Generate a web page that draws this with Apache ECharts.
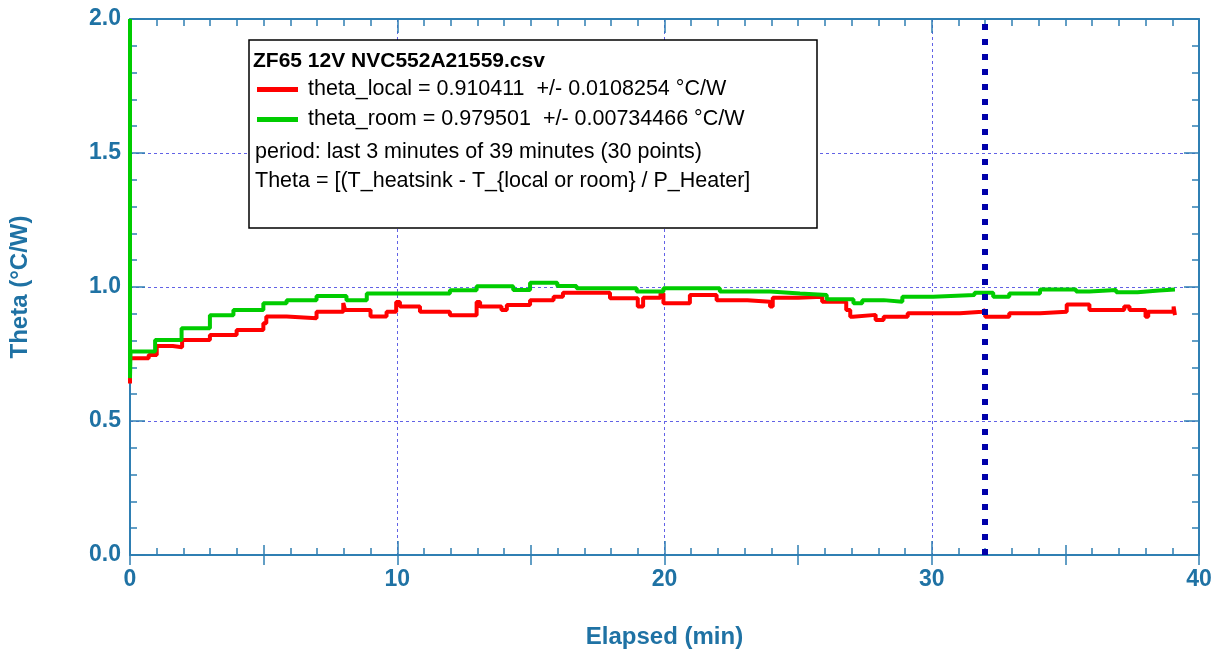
<!DOCTYPE html>
<html>
<head>
<meta charset="utf-8">
<script src="https://cdn.jsdelivr.net/npm/echarts@6/dist/echarts.min.js"></script>
<style>
  html, body { margin: 0; padding: 0; background: #fff; }
  #echarts { width: 1228px; height: 655px; }
</style>
</head>
<body>
<div id="echarts"></div>
<script>
// 数据：读图估计的阶梯曲线 (每个点 = 该台阶开始的时间和数值)
var roomTimes = [0, 0, 0.02, 0.94, 1.93, 2.99, 3.87, 4.99, 5.86, 6.98, 8.1, 8.86, 11.97, 12.97, 14.34, 14.97, 15.99, 16.71, 18.96, 19.96, 22.07, 23.95, 25.07, 26.07, 27.07, 27.4, 28.2, 28.9, 30.05, 31.6, 32.3, 32.9, 34.05, 35.4, 35.9, 36.9, 37.7, 38.5, 39.1];
var roomValues = [2.0, 0.66, 0.759, 0.802, 0.846, 0.895, 0.914, 0.939, 0.951, 0.966, 0.951, 0.976, 0.988, 1.003, 0.989, 1.016, 1.004, 0.995, 0.983, 0.995, 0.983, 0.976, 0.97, 0.954, 0.939, 0.951, 0.945, 0.964, 0.97, 0.979, 0.964, 0.976, 0.991, 0.983, 0.989, 0.98, 0.987, 0.991, 0.991];

var localTimes = [0, 0, 0.7, 1.0, 1.6, 1.95, 2.99, 3.99, 4.99, 5.1, 5.86, 6.98, 7.98, 8.05, 9.0, 9.6, 9.96, 10.1, 10.85, 11.97, 12.97, 13.1, 13.9, 14.1, 14.97, 15.85, 16.2, 17.96, 19.0, 19.2, 19.85, 19.96, 20.95, 21.95, 23.1, 23.95, 24.05, 25.0, 25.9, 26.8, 26.95, 27.05, 27.9, 28.2, 29.1, 31.05, 31.9, 32.0, 32.9, 34.05, 35.05, 35.9, 37.2, 37.4, 38.0, 38.1, 39.05, 39.1];
var localValues = [0.64, 0.734, 0.746, 0.78, 0.775, 0.802, 0.821, 0.84, 0.865, 0.89, 0.883, 0.908, 0.94, 0.914, 0.89, 0.908, 0.944, 0.927, 0.908, 0.895, 0.944, 0.927, 0.914, 0.933, 0.951, 0.964, 0.979, 0.958, 0.927, 0.96, 0.976, 0.939, 0.97, 0.951, 0.945, 0.927, 0.96, 0.964, 0.945, 0.914, 0.889, 0.896, 0.877, 0.889, 0.902, 0.908, 0.914, 0.889, 0.902, 0.908, 0.935, 0.914, 0.927, 0.914, 0.889, 0.908, 0.927, 0.895];

var markerTime = 32;   // 竖直虚线位置 (min)

var localName = 'theta_local = 0.910411  +/- 0.0108254 \u00b0C/W';
var roomName = 'theta_room = 0.979501  +/- 0.00734466 \u00b0C/W';
var titleText = 'ZF65 12V NVC552A21559.csv';
var noteLines = [
  'period: last 3 minutes of 39 minutes (30 points)',
  'Theta = [(T_heatsink - T_{local or room} / P_Heater]'
];

function pairs(xs, ys) {
  return xs.map(function (x, i) { return [x, ys[i]]; });
}

var axisColor = '#2f7fb3';
var labelColor = '#1f72a4';
var gridColor = '#6262e6';
var font = '"Liberation Sans", Arial, sans-serif';

var chart = echarts.init(document.getElementById('echarts'));

var baseX = {
  type: 'value', min: 0, max: 40, gridIndex: 0,
  axisLine: { show: true, onZero: false, lineStyle: { color: axisColor, width: 2 } },
  splitLine: { show: false },
  axisLabel: { show: false }
};
var baseY = {
  type: 'value', min: 0, max: 2, interval: 0.5, gridIndex: 0,
  axisLine: { show: true, onZero: false, lineStyle: { color: axisColor, width: 2 } },
  splitLine: { show: false },
  axisLabel: { show: false }
};

var option = {
  backgroundColor: '#fff',
  animation: false,
  grid: { left: 130, right: 29, top: 19, bottom: 100 },
  xAxis: [
    Object.assign({}, baseX, {
      position: 'bottom', interval: 10,
      axisTick: { show: true, inside: true, length: 14, lineStyle: { color: axisColor, width: 1.5 } },
      minorTick: { show: true, splitNumber: 10, length: 7, lineStyle: { color: axisColor, width: 1.5 } },
      splitLine: { show: true, lineStyle: { color: gridColor, type: [3, 3], width: 1 } },
      axisLabel: { show: true, margin: 13, color: labelColor, fontWeight: 'bold', fontSize: 23, fontFamily: font },
      name: 'Elapsed (min)', nameLocation: 'middle', nameGap: 70,
      nameTextStyle: { color: labelColor, fontWeight: 'bold', fontSize: 24, fontFamily: font }
    }),
    Object.assign({}, baseX, {
      position: 'bottom', interval: 5, axisLine: { show: false },
      axisTick: { show: true, inside: true, length: 10, lineStyle: { color: axisColor, width: 1.5 } }
    }),
    Object.assign({}, baseX, {
      position: 'top', interval: 10,
      axisTick: { show: true, inside: true, length: 14, lineStyle: { color: axisColor, width: 1.5 } },
      minorTick: { show: true, splitNumber: 10, length: 7, lineStyle: { color: axisColor, width: 1.5 } }
    }),
    Object.assign({}, baseX, {
      position: 'top', interval: 5, axisLine: { show: false },
      axisTick: { show: true, inside: true, length: 10, lineStyle: { color: axisColor, width: 1.5 } }
    })
  ],
  yAxis: [
    Object.assign({}, baseY, {
      position: 'left',
      axisTick: { show: true, inside: true, length: 15, lineStyle: { color: axisColor, width: 1.5 } },
      minorTick: { show: true, splitNumber: 5, length: 7, lineStyle: { color: axisColor, width: 1.5 } },
      splitLine: { show: true, lineStyle: { color: gridColor, type: [3, 3], width: 1 } },
      axisLabel: {
        show: true, margin: 9, color: labelColor, fontWeight: 'bold', fontSize: 23, fontFamily: font,
        formatter: function (v) { return v.toFixed(1); }
      },
      name: 'Theta (\u00b0C/W)', nameLocation: 'middle', nameGap: 98, nameRotate: 90,
      nameTextStyle: { color: labelColor, fontWeight: 'bold', fontSize: 24, fontFamily: font }
    }),
    Object.assign({}, baseY, {
      position: 'right',
      axisTick: { show: true, inside: true, length: 15, lineStyle: { color: axisColor, width: 1.5 } },
      minorTick: { show: true, splitNumber: 5, length: 7, lineStyle: { color: axisColor, width: 1.5 } }
    })
  ],
  legend: {
    orient: 'vertical', left: 257, top: 78, padding: 0, z: 20,
    itemWidth: 41, itemHeight: 5, itemGap: 7,
    textStyle: { color: '#000', fontSize: 21.5, lineHeight: 23, fontFamily: font, padding: [0, 0, 0, 5] },
    data: [{ name: localName, icon: 'rect' }, { name: roomName, icon: 'rect' }]
  },
  graphic: [
    { type: 'rect', z: 10, shape: { x: 249, y: 40, width: 568, height: 188 },
      style: { fill: '#fff', stroke: '#000', lineWidth: 1.5 } },
    { type: 'text', z: 11, x: 253, y: 61,
      style: { text: titleText, fill: '#000', font: 'bold 21px ' + font, textVerticalAlign: 'middle' } },
    { type: 'text', z: 11, x: 255, y: 152,
      style: { text: noteLines[0], fill: '#000', font: '21.5px ' + font, textVerticalAlign: 'middle' } },
    { type: 'text', z: 11, x: 255, y: 181,
      style: { text: noteLines[1], fill: '#000', font: '21.5px ' + font, textVerticalAlign: 'middle' } }
  ],
  series: [
    {
      name: localName, type: 'line', step: 'end', showSymbol: false,
      xAxisIndex: 0, yAxisIndex: 0, z: 3,
      data: pairs(localTimes, localValues),
      lineStyle: { color: '#ff0000', width: 4 }, itemStyle: { color: '#ff0000' }
    },
    {
      name: roomName, type: 'line', step: 'end', showSymbol: false,
      xAxisIndex: 0, yAxisIndex: 0, z: 4,
      data: pairs(roomTimes, roomValues),
      lineStyle: { color: '#00cc00', width: 4 }, itemStyle: { color: '#00cc00' },
      markLine: {
        silent: true, symbol: ['none', 'none'], label: { show: false },
        lineStyle: { color: '#0000aa', width: 6, type: [6, 9] },
        data: [{ xAxis: markerTime }]
      }
    }
  ]
};

chart.setOption(option);
</script>
</body>
</html>
